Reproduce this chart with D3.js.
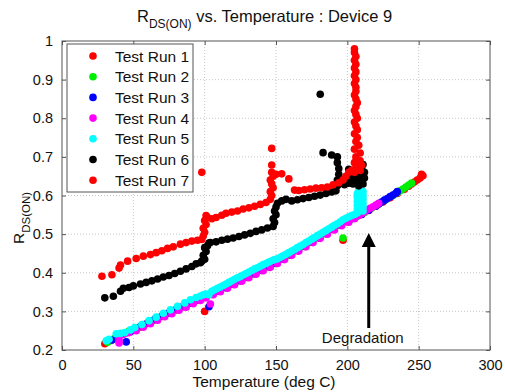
<!DOCTYPE html>
<html>
<head>
<meta charset="utf-8">
<script src="https://cdn.jsdelivr.net/npm/d3@7"></script>
<style>
  body { margin: 0; background: #fff; }
  svg text { font-family: "Liberation Sans", Arial, Helvetica, sans-serif; fill: #111; }
</style>
</head>
<body>
<div id="chart"></div>
<script>
// values, [temperature degC, Rds(on)]
var run1 = [[30,.216],[35,.226],[40,.236],[45,.244],[50,.252],[55,.26],[60,.269],[65,.278],[70,.287],[75,.295],[80,.304],[85,.312],[90,.321],[95,.329],[100,.30],[100,.336],[105,.344],[110,.352],[115,.361],[120,.37],[125,.379],[130,.388],[135,.397],[140,.406],[145,.415],[150,.424],[155,.435],[160,.446],[165,.457],[170,.468],[175,.479],[180,.49],[185,.501],[190,.512],[195,.523],[197,.484],[200,.532],[205,.541],[210,.551],[215,.561],[220,.572],[225,.583],[230,.594],[235,.605],[240,.616],[243,.624],[245,.63],[247,.635],[249,.64],[251,.645],[253,.651],[252,.655]]
var run2 = [[32,.22],[37,.23],[42,.24],[47,.249],[52,.257],[57,.266],[62,.275],[67,.284],[72,.293],[77,.301],[82,.31],[87,.318],[92,.327],[97,.335],[102,.342],[107,.35],[112,.359],[117,.368],[122,.377],[127,.386],[132,.395],[137,.404],[142,.413],[147,.423],[152,.433],[157,.444],[162,.455],[167,.466],[172,.477],[177,.488],[182,.499],[187,.51],[192,.521],[197,.49],[197,.53],[202,.537],[207,.546],[212,.556],[217,.567],[222,.578],[227,.589],[232,.6],[235,.607],[237,.612],[239,.617],[241,.622],[243,.627],[245,.632]]
var run3 = [[35,.226],[45,.221],[40,.237],[48,.247],[50,.253],[55,.261],[60,.27],[65,.279],[70,.288],[75,.296],[80,.305],[85,.313],[90,.322],[95,.33],[100,.337],[103,.312],[105,.345],[110,.353],[115,.362],[120,.371],[125,.38],[130,.389],[135,.398],[140,.407],[145,.416],[150,.425],[155,.436],[160,.447],[165,.458],[170,.469],[175,.48],[180,.491],[185,.502],[190,.513],[195,.524],[200,.533],[205,.541],[210,.551],[215,.562],[220,.573],[222,.578],[224,.583],[226,.588],[228,.592],[230,.597],[232,.601],[234,.606],[235,.61]]
var run4 = [[40,.218],[40,.226],[43,.24],[47,.245],[52,.25],[57,.259],[62,.268],[67,.277],[72,.286],[77,.294],[82,.303],[87,.311],[92,.32],[97,.328],[101,.335],[104,.319],[106,.343],[111,.351],[116,.36],[121,.369],[126,.378],[131,.387],[136,.396],[141,.405],[146,.414],[151,.424],[156,.434],[161,.445],[166,.456],[171,.467],[176,.478],[181,.489],[186,.5],[191,.511],[196,.522],[201,.531],[205,.54],[208,.548],[210,.553],[212,.558],[214,.563],[216,.567],[218,.571],[220,.575],[222,.58]]
var run5 = [[31,.224],[33,.228],[38,.242],[41,.243],[44,.245],[48,.252],[51,.258],[56,.266],[61,.276],[66,.285],[71,.295],[76,.304],[81,.313],[86,.322],[90,.33],[94,.336],[97,.34],[99,.343],[101,.345],[103,.343],
  [105,.352],[107,.356],[109,.36],[111,.363],[113,.367],[115,.371],[117,.375],[119,.379],[121,.383],[123,.387],[125,.39],[127,.394],[129,.398],[131,.402],[133,.406],[135,.41],[137,.413],[139,.417],[141,.421],[143,.424],[145,.428],[147,.431],[149,.434],[151,.436],[153,.44],[155,.444],[157,.448],[159,.452],[161,.456],[163,.46],[165,.465],[167,.469],[169,.473],[171,.478],[173,.482],[175,.487],[177,.491],[179,.496],[181,.5],[183,.505],[185,.509],[187,.514],[189,.518],[191,.523],[193,.527],[195,.532],[197,.537],[199,.541],[201,.545],[203,.548],[205,.551],
  [207,.555],[211,.56],[207,.565],[211,.57],[207,.575],[211,.58],[207,.585],[211,.59],[207,.595],[211,.6],[207,.605],[211,.61],[208,.617]]
var run6 = [[30,.335],[36,.339],[41,.352],[43,.36],[47,.362],[50,.366],[55,.371],[59,.375],[63,.379],[67,.384],[71,.389],[75,.393],[79,.398],[83,.404],[87,.41],[91,.416],[94,.423],[97,.426],
  [98,.43],[100,.435],[99,.445],[101,.455],[100,.465],[102,.47],[103,.477],
  [104,.478],[108,.48],[112,.484],[116,.487],[120,.49],[124,.494],[128,.498],[132,.502],[136,.507],[140,.511],[144,.516],
  [148,.52],[149,.53],[148,.54],[150,.55],[149,.56],[150,.57],[151,.58],
  [154,.586],[157,.59],[161,.586],[165,.589],[169,.592],[173,.595],[177,.598],[181,.601],[185,.605],[189,.609],[192,.612],
  [193,.625],[193,.64],[194,.655],[194,.67],[193,.685],[193,.7],[181,.862],[183,.711],[189,.705],
  [198,.628],[201,.632],[200,.645],[202,.655],[201,.668],
  [204,.63],[208,.625],[211,.63],[205,.64],[209,.64],[212,.645],[205,.65],[209,.655],[212,.66],[206,.665],[210,.67],[207,.68],[211,.68],[208,.688]]
var run7 = [[28,.391],[35,.395],[40,.412],[41,.42],[46,.43],[52,.437],[57,.443],[62,.447],[66,.452],[70,.457],[74,.463],[78,.467],[83,.474],[87,.478],[91,.482],[95,.484],[98,.486],
  [99,.495],[100,.505],[99,.515],[101,.525],[100,.535],[102,.543],[101,.548],[98,.66],
  [105,.54],[108,.543],[112,.549],[115,.554],[119,.557],[123,.56],[127,.565],[131,.568],[135,.572],[139,.577],[143,.582],
  [146,.59],[147,.6],[146,.61],[148,.62],[147,.63],[146,.64],[148,.65],[147,.66],[147,.679],[147,.722],[150,.655],[154,.656],[159,.643],
  [163,.614],[166,.613],[170,.615],[174,.617],[178,.619],[182,.62],[186,.622],[190,.628],[194,.633],[197,.64],[199,.65],[201,.66],[203,.665],
  [205,.66],[209,.665],[206,.672],[210,.678],[205,.685],[209,.69],[206,.70],[209,.71],[205,.72],[208,.73],[206,.74],[207,.75],[205,.76],[207,.77],[206,.78],[205,.79],[207,.8],[206,.81],[205,.82],[206,.83],[207,.84],[206,.85],[205,.86],[206,.87],[206,.88],[205,.89],[206,.9],[205,.91],[206,.92],[205,.93],[206,.94],[205,.95],[206,.96],[205,.97],[205,.98]]

var runNames = ["Test Run 1", "Test Run 2", "Test Run 3", "Test Run 4", "Test Run 5", "Test Run 6", "Test Run 7"]
var runColors = ["#ff0000", "#00ee00", "#0000ff", "#ff00ff", "#00ffff", "#000000", "#ff0000"]
var runData = [run1, run2, run3, run4, run5, run6, run7]
var xTicks = [0, 50, 100, 150, 200, 250, 300]
var yTicks = [0.2, 0.3, 0.4, 0.5, 0.6, 0.7, 0.8, 0.9, 1]

var W = 505, H = 392
var margin = { top: 41, right: 15, bottom: 42, left: 62 }
var width = W - margin.left - margin.right,
  height = H - margin.top - margin.bottom

var svg = d3.select("#chart").append("svg")
  .attr("width", W)
  .attr("height", H)

var g = svg.append("g")
  .attr("transform", "translate(" + margin.left + "," + margin.top + ")")

var x = d3.scaleLinear().domain([0, 300]).range([0, width])
var y = d3.scaleLinear().domain([0.2, 1]).range([height, 0])

// dotted grid
g.append("g").selectAll("line.gx")
  .data(xTicks.slice(1, -1))
  .enter().append("line")
  .attr("x1", function (d) { return x(d) }).attr("x2", function (d) { return x(d) })
  .attr("y1", 0).attr("y2", height)
  .attr("stroke", "#c8c8c8").attr("stroke-dasharray", "1,2")
g.append("g").selectAll("line.gy")
  .data(yTicks.slice(1, -1))
  .enter().append("line")
  .attr("y1", function (d) { return y(d) }).attr("y2", function (d) { return y(d) })
  .attr("x1", 0).attr("x2", width)
  .attr("stroke", "#c8c8c8").attr("stroke-dasharray", "1,2")

// points
runData.forEach(function (pts, i) {
  g.append("g").selectAll("circle")
    .data(pts)
    .enter().append("circle")
    .attr("cx", function (d) { return x(d[0]) })
    .attr("cy", function (d) { return y(d[1]) })
    .attr("r", 3.8)
    .attr("fill", runColors[i])
})

// axes (ticks inside, like matlab)
function styleAxis(sel) {
  sel.select(".domain").remove()
  sel.selectAll(".tick line").attr("stroke", "#555")
  sel.selectAll(".tick text").style("font-size", "14.5px").attr("fill", "#111")
}
g.append("g").attr("transform", "translate(0," + height + ")")
  .call(d3.axisBottom(x).tickValues(xTicks).tickSizeInner(-4).tickSizeOuter(0).tickPadding(10))
  .call(styleAxis)
g.append("g")
  .call(d3.axisTop(x).tickValues(xTicks).tickSizeInner(-4).tickSizeOuter(0).tickFormat(""))
  .call(styleAxis)
g.append("g")
  .call(d3.axisLeft(y).tickValues(yTicks).tickSizeInner(-4).tickSizeOuter(0).tickPadding(9).tickFormat(d3.format("~g")))
  .call(styleAxis)
g.append("g").attr("transform", "translate(" + width + ",0)")
  .call(d3.axisRight(y).tickValues(yTicks).tickSizeInner(-4).tickSizeOuter(0).tickFormat(""))
  .call(styleAxis)

g.append("rect")
  .attr("width", width).attr("height", height)
  .attr("fill", "none").attr("stroke", "#555").attr("stroke-width", 1)

// degradation arrow
var ax = x(215)
g.append("line")
  .attr("x1", ax).attr("x2", ax)
  .attr("y1", y(0.257)).attr("y2", y(0.475))
  .attr("stroke", "#000").attr("stroke-width", 3)
g.append("path")
  .attr("d", "M" + ax + "," + y(0.503) + "L" + (ax - 7) + "," + (y(0.503) + 14) + "L" + (ax + 7) + "," + (y(0.503) + 14) + "Z")
  .attr("fill", "#000")
g.append("text")
  .attr("x", ax - 6).attr("y", y(0.217))
  .attr("text-anchor", "middle")
  .style("font-size", "15px")
  .text("Degradation")

// legend
var leg = g.append("g").attr("transform", "translate(5,3)")
leg.append("rect")
  .attr("width", 126).attr("height", 148)
  .attr("fill", "#fff").attr("stroke", "#555")
runNames.forEach(function (name, i) {
  var ly = 12 + i * 20.7
  leg.append("circle").attr("cx", 26).attr("cy", ly).attr("r", 3.8).attr("fill", runColors[i])
  leg.append("text").attr("x", 48).attr("y", ly + 5.5)
    .style("font-size", "15.5px").text(name)
})

// title
var title = svg.append("text")
  .attr("x", 137).attr("y", 22)
  .style("font-size", "16.5px")
title.append("tspan").text("R")
title.append("tspan").attr("dy", 6).style("font-size", "12px").text("DS(ON)")
title.append("tspan").attr("dy", -6).text(" vs. Temperature : Device 9")

// axis labels
svg.append("text")
  .attr("x", 264).attr("y", 387)
  .attr("text-anchor", "middle")
  .style("font-size", "15.5px")
  .text("Temperature (deg C)")

var yl = svg.append("text")
  .attr("transform", "translate(24,244) rotate(-90)")
  .style("font-size", "15.5px")
yl.append("tspan").text("R")
yl.append("tspan").attr("dy", 6).style("font-size", "11.5px").text("DS(ON)")
</script>
</body>
</html>
